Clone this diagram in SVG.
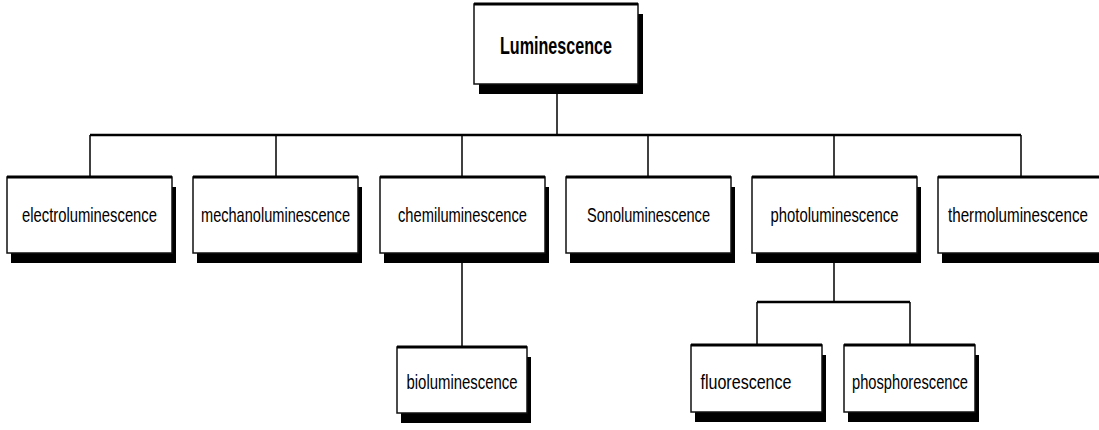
<svg xmlns="http://www.w3.org/2000/svg" width="1099" height="430" viewBox="0 0 1099 430">
<style>
.sh{fill:#000}
.bx{fill:#fff;stroke:#111;stroke-width:1.5}
.tp{stroke:#000;stroke-width:3}
.t{font-family:"Liberation Sans",Arial,sans-serif;font-size:21px;fill:#000;text-anchor:middle}
.tb{font-family:"Liberation Sans",Arial,sans-serif;font-size:24px;font-weight:bold;fill:#000;text-anchor:middle}
.c{fill:none;stroke:#000;stroke-width:1.5}
.ch{fill:none;stroke:#000;stroke-width:2.5}
</style>
<rect width="1099" height="430" fill="#fff"/>
<g id="connectors">
<line class="c" x1="557" y1="84" x2="557" y2="135"/>
<line class="ch" x1="90" y1="135" x2="1021" y2="135"/>
<line class="c" x1="90" y1="135" x2="90" y2="177"/>
<line class="c" x1="276" y1="135" x2="276" y2="177"/>
<line class="c" x1="462" y1="135" x2="462" y2="177"/>
<line class="c" x1="648" y1="135" x2="648" y2="177"/>
<line class="c" x1="834" y1="135" x2="834" y2="177"/>
<line class="c" x1="1021" y1="135" x2="1021" y2="177"/>
<line class="c" x1="462" y1="253" x2="462" y2="347"/>
<line class="c" x1="834" y1="253" x2="834" y2="302"/>
<line class="ch" x1="757" y1="302" x2="910" y2="302"/>
<line class="c" x1="757" y1="302" x2="757" y2="345"/>
<line class="c" x1="910" y1="302" x2="910" y2="345"/>
</g>
<g id="luminescence">
<rect class="sh" x="479" y="14" width="164" height="80"/>
<rect class="bx" x="474" y="4" width="164" height="80"/>
<line class="tp" x1="474" y1="4" x2="638" y2="4"/>
<text class="tb" x="556" y="54" textLength="112" lengthAdjust="spacingAndGlyphs">Luminescence</text>
</g>
<g id="electroluminescence">
<rect class="sh" x="11" y="187" width="165" height="76"/>
<rect class="bx" x="7" y="177" width="165" height="76"/>
<line class="tp" x1="7" y1="177" x2="172" y2="177"/>
<text class="t" x="89.5" y="222" textLength="135" lengthAdjust="spacingAndGlyphs">electroluminescence</text>
</g>
<g id="mechanoluminescence">
<rect class="sh" x="197" y="187" width="165" height="76"/>
<rect class="bx" x="193" y="177" width="165" height="76"/>
<line class="tp" x1="193" y1="177" x2="358" y2="177"/>
<text class="t" x="275.5" y="222" textLength="149" lengthAdjust="spacingAndGlyphs">mechanoluminescence</text>
</g>
<g id="chemiluminescence">
<rect class="sh" x="384" y="187" width="165" height="76"/>
<rect class="bx" x="380" y="177" width="165" height="76"/>
<line class="tp" x1="380" y1="177" x2="545" y2="177"/>
<text class="t" x="462.5" y="222" textLength="129" lengthAdjust="spacingAndGlyphs">chemiluminescence</text>
</g>
<g id="sonoluminescence">
<rect class="sh" x="570" y="187" width="165" height="76"/>
<rect class="bx" x="566" y="177" width="165" height="76"/>
<line class="tp" x1="566" y1="177" x2="731" y2="177"/>
<text class="t" x="648.5" y="222" textLength="123" lengthAdjust="spacingAndGlyphs">Sonoluminescence</text>
</g>
<g id="photoluminescence">
<rect class="sh" x="756" y="187" width="165" height="76"/>
<rect class="bx" x="752" y="177" width="165" height="76"/>
<line class="tp" x1="752" y1="177" x2="917" y2="177"/>
<text class="t" x="834.5" y="222" textLength="128" lengthAdjust="spacingAndGlyphs">photoluminescence</text>
</g>
<g id="thermoluminescence">
<rect class="sh" x="942" y="187" width="165" height="76"/>
<rect class="bx" x="938" y="177" width="165" height="76"/>
<line class="tp" x1="938" y1="177" x2="1103" y2="177"/>
<text class="t" x="1018" y="222" textLength="140" lengthAdjust="spacingAndGlyphs">thermoluminescence</text>
</g>
<g id="bioluminescence">
<rect class="sh" x="401" y="357" width="130" height="66"/>
<rect class="bx" x="397" y="347" width="130" height="66"/>
<line class="tp" x1="397" y1="347" x2="527" y2="347"/>
<text class="t" x="462" y="389" textLength="111" lengthAdjust="spacingAndGlyphs">bioluminescence</text>
</g>
<g id="fluorescence">
<rect class="sh" x="695" y="355" width="131" height="67"/>
<rect class="bx" x="691" y="345" width="131" height="67"/>
<line class="tp" x1="691" y1="345" x2="822" y2="345"/>
<text class="t" x="746" y="389" textLength="91" lengthAdjust="spacingAndGlyphs">fluorescence</text>
</g>
<g id="phosphorescence">
<rect class="sh" x="848" y="355" width="131" height="67"/>
<rect class="bx" x="844" y="345" width="131" height="67"/>
<line class="tp" x1="844" y1="345" x2="975" y2="345"/>
<text class="t" x="910" y="389" textLength="116" lengthAdjust="spacingAndGlyphs">phosphorescence</text>
</g>
</svg>
